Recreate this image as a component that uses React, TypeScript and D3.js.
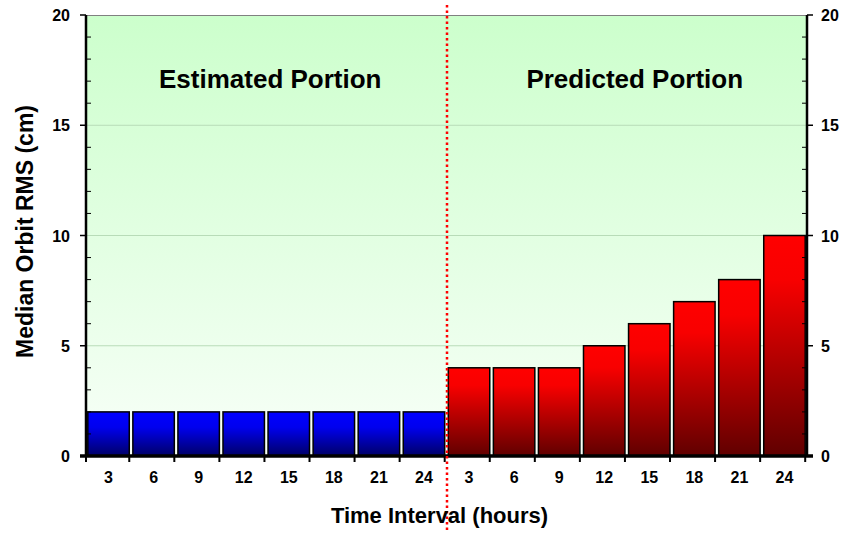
import React, { useRef, useEffect } from 'react';
import * as d3 from 'd3';

const hours = ['3', '6', '9', '12', '15', '18', '21', '24'];
const estimatedRms = [2, 2, 2, 2, 2, 2, 2, 2];
const predictedRms = [4, 4, 4, 5, 6, 7, 8, 10];
const yTicks = [0, 5, 10, 15, 20];

const App: React.FC = () => {
  const svgRef = useRef<SVGSVGElement>(null);

  useEffect(() => {
    if (!svgRef.current) return;
    const svg = d3.select(svgRef.current);
    svg.selectAll('*').remove();

    const width = 845;
    const height = 533;
    const margin = { top: 15, right: 38, bottom: 77, left: 86 };
    const x0 = margin.left;
    const x1 = width - margin.right;
    const y0 = height - margin.bottom;
    const y1 = margin.top;
    const font = '"Liberation Sans", Arial, sans-serif';

    const data = [
      ...estimatedRms.map((v, i) => ({ key: `e${i}`, label: hours[i], value: v, kind: 'est' })),
      ...predictedRms.map((v, i) => ({ key: `p${i}`, label: hours[i], value: v, kind: 'pred' })),
    ];

    const x = d3.scaleBand<string>()
      .domain(data.map(d => d.key))
      .range([x0, x1])
      .paddingInner(0.08)
      .paddingOuter(0.04);
    const y = d3.scaleLinear().domain([0, 20]).range([y0, y1]);

    const defs = svg.append('defs');
    const bg = defs.append('linearGradient').attr('id', 'bg').attr('x1', 0).attr('y1', 0).attr('x2', 0).attr('y2', 1);
    bg.append('stop').attr('offset', '0%').attr('stop-color', '#ccffcc');
    bg.append('stop').attr('offset', '100%').attr('stop-color', '#f8fff8');
    const blue = defs.append('linearGradient').attr('id', 'blue').attr('x1', 0).attr('y1', 0).attr('x2', 0).attr('y2', 1);
    blue.append('stop').attr('offset', '0%').attr('stop-color', '#0000ff');
    blue.append('stop').attr('offset', '35%').attr('stop-color', '#0000ee');
    blue.append('stop').attr('offset', '100%').attr('stop-color', '#000066');
    const red = defs.append('linearGradient').attr('id', 'red').attr('x1', 0).attr('y1', 0).attr('x2', 0).attr('y2', 1);
    red.append('stop').attr('offset', '0%').attr('stop-color', '#ff0000');
    red.append('stop').attr('offset', '20%').attr('stop-color', '#f80000');
    red.append('stop').attr('offset', '100%').attr('stop-color', '#600000');

    // plot background
    svg.append('rect')
      .attr('x', x0).attr('y', y1)
      .attr('width', x1 - x0).attr('height', y0 - y1)
      .attr('fill', 'url(#bg)');

    // gridlines
    svg.append('g')
      .selectAll('line')
      .data(yTicks.filter(t => t > 0 && t < 20))
      .enter()
      .append('line')
      .attr('x1', x0).attr('x2', x1)
      .attr('y1', d => y(d)).attr('y2', d => y(d))
      .attr('stroke', '#b8dcb8')
      .attr('stroke-width', 1);

    // top border
    svg.append('line')
      .attr('x1', x0).attr('x2', x1).attr('y1', y1 + 0.5).attr('y2', y1 + 0.5)
      .attr('stroke', '#808080').attr('stroke-width', 1);

    // bars
    svg.append('g')
      .selectAll('rect')
      .data(data)
      .enter()
      .append('rect')
      .attr('x', d => x(d.key)!)
      .attr('y', d => y(d.value))
      .attr('width', x.bandwidth())
      .attr('height', d => y0 - y(d.value))
      .attr('fill', d => d.kind === 'est' ? 'url(#blue)' : 'url(#red)')
      .attr('stroke', '#000')
      .attr('stroke-width', 1.5);

    // section labels
    const mid = x0 + (x1 - x0) / 2;
    svg.append('text')
      .attr('x', (x0 + mid) / 2 + 4).attr('y', 88)
      .attr('text-anchor', 'middle')
      .attr('font-family', font).attr('font-size', '26px').attr('font-weight', 'bold')
      .text('Estimated Portion');
    svg.append('text')
      .attr('x', (mid + x1) / 2 + 8).attr('y', 88)
      .attr('text-anchor', 'middle')
      .attr('font-family', font).attr('font-size', '26px').attr('font-weight', 'bold')
      .text('Predicted Portion');

    // minor ticks (inside)
    const minor = d3.range(0, 21).filter(v => v % 5 !== 0);
    svg.append('g')
      .selectAll('line')
      .data(minor)
      .enter()
      .append('line')
      .attr('x1', x0).attr('x2', x0 + 5)
      .attr('y1', d => y(d)).attr('y2', d => y(d))
      .attr('stroke', '#000').attr('stroke-width', 1);
    svg.append('g')
      .selectAll('line')
      .data(minor)
      .enter()
      .append('line')
      .attr('x1', x1 - 5).attr('x2', x1)
      .attr('y1', d => y(d)).attr('y2', d => y(d))
      .attr('stroke', '#000').attr('stroke-width', 1);

    // major ticks (outside)
    svg.append('g')
      .selectAll('line')
      .data(yTicks)
      .enter()
      .append('line')
      .attr('x1', x0 - 6).attr('x2', x0)
      .attr('y1', d => y(d)).attr('y2', d => y(d))
      .attr('stroke', '#000').attr('stroke-width', 1.5);
    svg.append('g')
      .selectAll('line')
      .data(yTicks)
      .enter()
      .append('line')
      .attr('x1', x1).attr('x2', x1 + 6)
      .attr('y1', d => y(d)).attr('y2', d => y(d))
      .attr('stroke', '#000').attr('stroke-width', 1.5);

    // axis lines
    svg.append('line')
      .attr('x1', x0).attr('x2', x0).attr('y1', y1).attr('y2', y0)
      .attr('stroke', '#000').attr('stroke-width', 2.5);
    svg.append('line')
      .attr('x1', x1).attr('x2', x1).attr('y1', y1).attr('y2', y0)
      .attr('stroke', '#000').attr('stroke-width', 2.5);
    svg.append('line')
      .attr('x1', x0 - 6).attr('x2', x1 + 6).attr('y1', y0).attr('y2', y0)
      .attr('stroke', '#000').attr('stroke-width', 3.5);

    // x ticks at category boundaries
    const step = x.step();
    const boundaries = d3.range(0, data.length + 1).map(i => x0 + (x1 - x0 - step * data.length) / 2 + i * step - (x.paddingInner() * step) / 2);
    svg.append('g')
      .selectAll('line')
      .data(boundaries.map(b => Math.max(x0, Math.min(x1, b))))
      .enter()
      .append('line')
      .attr('x1', d => d).attr('x2', d => d)
      .attr('y1', y0).attr('y2', y0 + 6)
      .attr('stroke', '#000').attr('stroke-width', 2);

    // y tick labels
    svg.append('g')
      .selectAll('text')
      .data(yTicks)
      .enter()
      .append('text')
      .attr('x', x0 - 16)
      .attr('y', d => y(d) + 6)
      .attr('text-anchor', 'end')
      .attr('font-family', font).attr('font-size', '16px').attr('font-weight', 'bold')
      .text(d => d);
    svg.append('g')
      .selectAll('text')
      .data(yTicks)
      .enter()
      .append('text')
      .attr('x', x1 + 14)
      .attr('y', d => y(d) + 6)
      .attr('text-anchor', 'start')
      .attr('font-family', font).attr('font-size', '16px').attr('font-weight', 'bold')
      .text(d => d);

    // x tick labels
    svg.append('g')
      .selectAll('text')
      .data(data)
      .enter()
      .append('text')
      .attr('x', d => x(d.key)! + x.bandwidth() / 2)
      .attr('y', y0 + 27)
      .attr('text-anchor', 'middle')
      .attr('font-family', font).attr('font-size', '16px').attr('font-weight', 'bold')
      .text(d => d.label);

    // divider
    svg.append('line')
      .attr('x1', mid + 0.5).attr('x2', mid + 0.5)
      .attr('y1', 5).attr('y2', 530)
      .attr('stroke', '#ff0000')
      .attr('stroke-width', 2.5)
      .attr('stroke-dasharray', '2.5,3');

    // axis titles
    svg.append('text')
      .attr('x', mid - 7).attr('y', 523)
      .attr('text-anchor', 'middle')
      .attr('font-family', font).attr('font-size', '22px').attr('font-weight', 'bold')
      .text('Time Interval (hours)');
    svg.append('text')
      .attr('transform', `translate(33, ${(y0 + y1) / 2 - 4}) rotate(-90)`)
      .attr('text-anchor', 'middle')
      .attr('font-family', font).attr('font-size', '23px').attr('font-weight', 'bold')
      .text('Median Orbit RMS (cm)');
  }, []);

  return (
    <svg ref={svgRef} width={845} height={533}
      style={{ position: 'absolute', left: 0, top: 0, background: '#fff' }} />
  );
};

export default App;
